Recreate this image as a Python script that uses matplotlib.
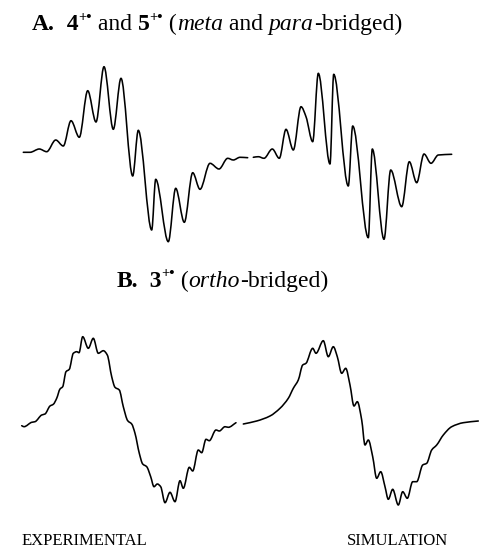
import matplotlib
matplotlib.use("Agg")
import matplotlib.pyplot as plt
from matplotlib.path import Path
from matplotlib.patches import PathPatch

# Spectrum traces (pixel coordinates, y grows downward)
a_exp_x = [23.3, 30, 39.3, 46.7, 55.7, 63.3, 71, 79.3, 87.7, 96, 104, 113.3, 121, 132.7,
           138.3, 151.7, 155.7, 168.3, 175.7, 184.3, 192.7, 200, 210, 219, 227.7, 233.3, 240, 247.7]
a_exp_y = [152.3, 152.3, 149, 151.7, 140, 146, 120.7, 137.3, 90.7, 122, 66.7, 129.3, 78.3, 176,
           130.3, 230, 179.3, 241.7, 188.3, 222.3, 172.7, 189.3, 163.3, 169, 158.3, 160, 157.3, 157.7]

a_sim_x = [253.3, 258.3, 264, 272.3, 279.3, 286, 293.3, 301, 306, 312.7, 318.3, 330, 333.7, 348.3,
           352.7, 368.3, 372.3, 384, 390.7, 401.7, 409.3, 416.7, 424, 431, 438.3, 451.7]
a_sim_y = [157.3, 156.7, 158.3, 149, 158.3, 129.3, 150, 106.7, 116.7, 141.7, 73.3, 164, 74.3, 186,
           126, 237.7, 149, 239.3, 170, 206.7, 161.7, 182.7, 154, 163.3, 155, 154.3]

b_exp_x = [21.7, 24, 31.7, 35, 41.7, 45, 50, 53.3, 56.7, 60, 62.7, 66, 69.3, 73.3, 76.7, 79, 82.7,
           88.3, 93.3, 98.3, 103.3, 107.3, 111.7, 115, 119.3, 123.3, 127.7, 131.7, 135, 139.3,
           142.7, 146.7, 150.7, 154, 157.3, 160.7, 165, 170, 175, 180, 183.3, 189.3, 192.7,
           198.3, 201.7, 206, 209.3, 216, 219.3, 225, 228.3, 236]
b_exp_y = [425.7, 426.7, 422.3, 421.7, 415, 414, 406, 404.3, 398.3, 389, 386.7, 371.7, 369.3,
           353.3, 351.7, 352.7, 336.7, 348.3, 338.3, 353.3, 350.7, 355, 376.7, 387.3, 390, 406.7,
           420.7, 424, 433.3, 453.3, 464, 466.7, 476.7, 486.7, 484, 486.7, 502.7, 492.3, 501.7,
           480.7, 488.3, 467.3, 471, 450, 452.7, 439.3, 440.7, 430, 431, 426.7, 427.3, 422.7]

b_sim_x = [243.3, 256.7, 270, 280, 288.3, 293.3, 298.3, 302.7, 306, 312.7, 316, 323.3, 328.3,
           333.3, 337.3, 341.7, 345.7, 350, 354, 357.3, 361.7, 365, 368.3, 372.7, 376.7, 380.7,
           385, 388.3, 392.7, 398.3, 402.7, 407.3, 412.7, 416.7, 422.7, 426.7, 431.7, 436.7,
           443.3, 451.7, 463.3, 478.3]
b_sim_y = [424, 421, 416, 408.3, 398.3, 388.3, 380, 365, 363.3, 348.3, 353.3, 340.7, 356.7,
           346.7, 356.7, 373.3, 368.3, 385, 406, 401.7, 420, 445, 440, 456.7, 478.3, 471.7,
           486.7, 499.3, 489.3, 505, 491.7, 498.3, 481.7, 481.7, 465, 463.3, 450, 445, 435,
           426.7, 422.7, 421]

plt.rcParams['font.family'] = ['Liberation Serif', 'DejaVu Serif']

fig = plt.figure(figsize=(4.79, 5.5), dpi=100)
ax = fig.add_axes([0, 0, 1, 1])
ax.set_xlim(0, 479)
ax.set_ylim(550, 0)
ax.axis('off')


def smooth_trace(xs, ys):
    # cubic bezier path through the read points, monotone (pchip style) tangents
    n = len(xs)
    sec = [(ys[i + 1] - ys[i]) / (xs[i + 1] - xs[i]) for i in range(n - 1)]
    tang = [sec[0]]
    for i in range(1, n - 1):
        a, b = sec[i - 1], sec[i]
        tang.append(0.0 if a * b <= 0 else 2 * a * b / (a + b))
    tang.append(sec[-1])
    verts = [(xs[0], ys[0])]
    codes = [Path.MOVETO]
    for i in range(n - 1):
        h = (xs[i + 1] - xs[i]) / 3
        verts += [(xs[i] + h, ys[i] + tang[i] * h),
                  (xs[i + 1] - h, ys[i + 1] - tang[i + 1] * h),
                  (xs[i + 1], ys[i + 1])]
        codes += [Path.CURVE4] * 3
    return Path(verts, codes)


for xs, ys in [(a_exp_x, a_exp_y), (a_sim_x, a_sim_y), (b_exp_x, b_exp_y), (b_sim_x, b_sim_y)]:
    ax.add_patch(PathPatch(smooth_trace(xs, ys), fill=False, edgecolor='black', lw=1.15,
                           joinstyle='round', capstyle='round'))

fig.canvas.draw()
renderer = fig.canvas.get_renderer()


def draw_runs(x, y, runs, size=17):
    # place text pieces one after another on a common baseline
    for txt, weight, style, scale, dy in runs:
        t = ax.text(x, y + dy, txt, fontsize=size * scale, fontweight=weight,
                    fontstyle=style, ha='left', va='baseline', color='black')
        bb = t.get_window_extent(renderer=renderer)
        x += bb.width * 479 / fig.bbox.width


sup = ("+\u2022", 'bold', 'normal', 0.62, -9.5)

draw_runs(32, 30, [
    ("A.", 'bold', 'normal', 1, 0),
    ("  4", 'bold', 'normal', 1, 0),
    sup,
    (" and ", 'normal', 'normal', 1, 0),
    ("5", 'bold', 'normal', 1, 0),
    sup,
    (" (", 'normal', 'normal', 1, 0),
    ("meta", 'normal', 'italic', 1, 0),
    (" and ", 'normal', 'normal', 1, 0),
    ("para", 'normal', 'italic', 1, 0),
    ("-bridged)", 'normal', 'normal', 1, 0),
])

draw_runs(116.5, 287, [
    ("B.", 'bold', 'normal', 1, 0),
    ("  3", 'bold', 'normal', 1, 0),
    sup,
    (" (", 'normal', 'normal', 1, 0),
    ("ortho", 'normal', 'italic', 1, 0),
    ("-bridged)", 'normal', 'normal', 1, 0),
])

ax.text(21.5, 549, "EXPERIMENTAL", fontsize=12, ha='left', va='bottom')
ax.text(398, 549, "SIMULATION", fontsize=12, ha='center', va='bottom')

fig.savefig("out.png", dpi=100)
